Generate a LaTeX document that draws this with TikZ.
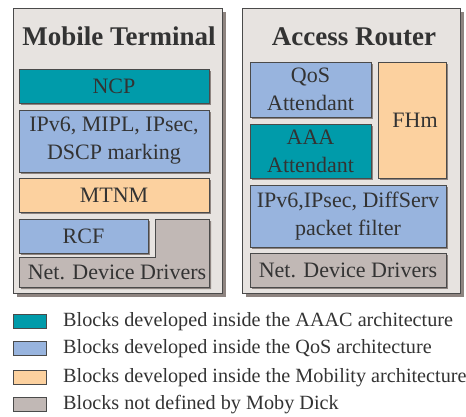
\documentclass[tikz,border=0pt]{standalone}
\usepackage{fontspec}
\setmainfont{Liberation Serif}
\usetikzlibrary{shadows}
\definecolor{cAAA}{HTML}{009BAA}
\definecolor{cQoS}{HTML}{98B4DE}
\definecolor{cMob}{HTML}{FCD19F}
\definecolor{cGray}{HTML}{C1B8B5}
\definecolor{cOuter}{HTML}{E7E3E0}
\definecolor{cShadow}{HTML}{8E8480}
\definecolor{cLine}{HTML}{4A4A4A}
\definecolor{cText}{HTML}{333333}
\begin{document}
\begin{tikzpicture}[x=1pt,y=-1pt,
  outerbox/.style={draw=cLine, line width=0.8pt, fill=cOuter, inner sep=0pt,
    drop shadow={shadow xshift=4pt,shadow yshift=-4pt,fill=cShadow,opacity=1}},
  blk/.style={draw=cLine, line width=0.8pt, inner sep=0pt, text=cText, align=center,
    font=\fontsize{22}{28}\selectfont,
    drop shadow={shadow xshift=2pt,shadow yshift=-2pt,fill=cShadow,opacity=1}},
  title/.style={text=cText, inner sep=0pt, font=\fontsize{27}{30}\selectfont\bfseries},
  swatch/.style={draw=cLine, line width=0.8pt, inner sep=0pt, minimum width=33pt, minimum height=14pt},
  legtext/.style={text=cText, inner sep=0pt, anchor=base west, font=\fontsize{20.2}{24}\selectfont}]
\useasboundingbox (0,0) rectangle (466,416);

% Mobile Terminal
\node[outerbox, minimum width=209pt, minimum height=285pt] (mt) at (117.5,150.5) {};
\node[title, anchor=base] (mtt) at (119,45) {Mobile Terminal};
\node[blk, fill=cAAA, minimum width=190pt, minimum height=34pt] (ncp) at (114,86) {NCP};
\node[blk, fill=cQoS, minimum width=190pt, minimum height=62pt] (ipm) at (114,141) {IPv6, MIPL, IPsec,\\DSCP marking};
\node[blk, fill=cMob, minimum width=190pt, minimum height=34pt] (mtnm) at (114,195) {MTNM};
\draw[draw=cLine, line width=0.8pt, fill=cGray,
  drop shadow={shadow xshift=2pt,shadow yshift=-2pt,fill=cShadow,opacity=1}]
  (155,219) -- (209,219) -- (209,287) -- (19,287) -- (19,257) -- (155,257) -- cycle;
\node[blk, fill=cQoS, minimum width=129pt, minimum height=34pt] (rcf) at (83.5,236) {RCF};
\node[text=cText, inner sep=0pt, font=\fontsize{22}{28}\selectfont] (ndd1) at (117,272) {Net. Device Drivers};

% Access Router
\node[outerbox, minimum width=218pt, minimum height=285pt] (ar) at (351,150.5) {};
\node[title, anchor=base] (art) at (354,45) {Access Router};
\node[blk, fill=cQoS, minimum width=121pt, minimum height=55pt] (qos) at (310.5,89.5) {QoS\\Attendant};
\node[blk, fill=cAAA, minimum width=121pt, minimum height=54pt] (aaa) at (310.5,151) {AAA\\Attendant};
\node[blk, fill=cMob, minimum width=68pt, minimum height=116pt] (fhm) at (412,120) {\hspace*{6pt}FHm};
\node[blk, fill=cQoS, minimum width=196pt, minimum height=62pt] (ipa) at (348,216) {IPv6,IPsec, DiffServ\\packet filter};
\node[blk, fill=cGray, minimum width=196pt, minimum height=34pt] (ndd2) at (348,270) {Net. Device Drivers};

% Legend
\node[swatch, fill=cAAA] (s1) at (29.5,321) {};
\node[swatch, fill=cQoS] (s2) at (29.5,348.5) {};
\node[swatch, fill=cMob] (s3) at (29.5,377) {};
\node[swatch, fill=cGray] (s4) at (29.5,404) {};
\node[legtext] (l1) at (63,326) {Blocks developed inside the AAAC architecture};
\node[legtext] (l2) at (63,353.5) {Blocks developed inside the QoS architecture};
\node[legtext] (l3) at (63,382) {Blocks developed inside the Mobility architecture};
\node[legtext] (l4) at (63,409) {Blocks not defined by Moby Dick};
\end{tikzpicture}
\end{document}
